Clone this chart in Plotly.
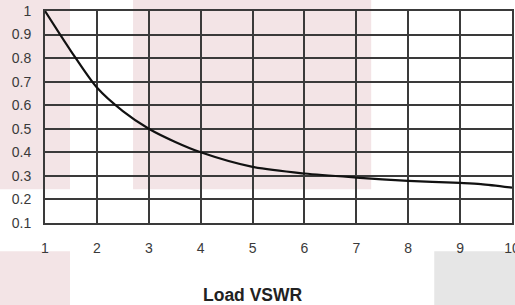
import plotly.graph_objects as go

vswr = [1, 1.5, 2, 2.5, 3, 3.5, 4, 5, 6, 7, 8, 9, 9.4, 10]
ratio = [1.0, 0.83, 0.675, 0.575, 0.5, 0.445, 0.40, 0.338, 0.31, 0.293, 0.279, 0.27, 0.265, 0.25]
x_ticks = [1, 2, 3, 4, 5, 6, 7, 8, 9, 10]
y_ticks = [0.1, 0.2, 0.3, 0.4, 0.5, 0.6, 0.7, 0.8, 0.9, 1]
y_labels = ["0.1", "0.2", "0.3", "0.4", "0.5", "0.6", "0.7", "0.8", "0.9", "1"]
x_title = "Load VSWR"

L, R, T, B = 45, 511.7, 11, 222.7
W, H = 515, 305

def px(x):
    return (x - L) / (R - L)

def py(y):
    return (B - y) / (B - T)

fig = go.Figure()
fig.add_trace(go.Scatter(x=vswr, y=ratio, mode="lines",
                         line=dict(color="#111111", width=2.2, shape="spline", smoothing=0.8),
                         hoverinfo="skip", showlegend=False))

pink = "#f3e4e6"
rects = [
    (0, 0, 70, 189, pink),
    (133, 0, 371, 189, pink),
    (0, 251, 70, 305, pink),
    (434, 251, 515, 305, "#e6e6e6"),
]
shapes = []
for x0, y0, x1, y1, c in rects:
    shapes.append(dict(type="rect", xref="paper", yref="paper",
                       x0=px(x0), x1=px(x1), y0=py(y1), y1=py(y0),
                       fillcolor=c, line=dict(width=0), layer="below"))

tick_font = dict(family="Liberation Sans, Arial", size=14, color="#3a3a3a")
axis_common = dict(showgrid=True, gridcolor="#3a3a3a", gridwidth=2,
                   showline=True, linecolor="#3a3a3a", linewidth=2, mirror=True,
                   zeroline=False, ticks="", tickfont=tick_font, automargin=False)

fig.update_layout(
    width=W, height=H,
    margin=dict(l=L, r=W - R, t=T, b=H - B),
    paper_bgcolor="white", plot_bgcolor="rgba(0,0,0,0)",
    shapes=shapes,
    xaxis=dict(range=[1, 10], tickvals=x_ticks, ticklabelstandoff=11, ticklabeloverflow="allow", **axis_common),
    yaxis=dict(range=[0.1, 1], tickvals=y_ticks, ticktext=y_labels, ticklabelstandoff=9, **axis_common),
    annotations=[dict(text="<b>" + x_title + "</b>", xref="paper", yref="paper",
                      x=px(253), y=py(295), showarrow=False, xanchor="center", yanchor="middle",
                      font=dict(family="Liberation Sans, Arial", size=17.5, color="#222222"))],
)

fig.write_html("out.html", config={"displayModeBar": False},
               post_script="document.body.style.margin='0';")
